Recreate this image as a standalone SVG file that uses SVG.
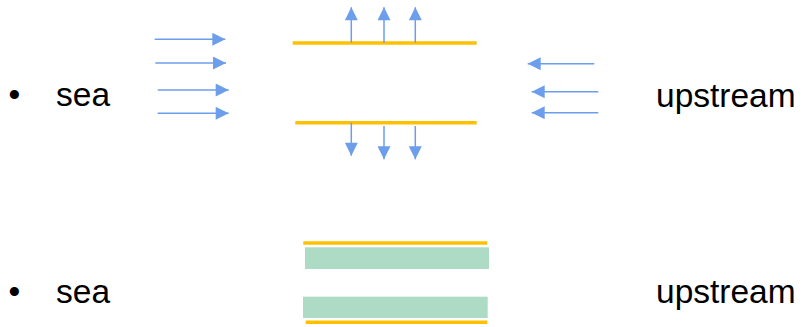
<svg xmlns="http://www.w3.org/2000/svg" width="809" height="327" viewBox="0 0 809 327">
<defs>
<marker id="ah" viewBox="0 0 10 10" refX="10" refY="5" markerWidth="13.5" markerHeight="13" markerUnits="userSpaceOnUse" orient="auto">
<path d="M0,0 L10,5 L0,10 Z" fill="#6D9EEB"/>
</marker>
<style>
.t{font-family:"Liberation Sans",Arial,sans-serif;font-size:33.5px;fill:#000}
.y{stroke:#FFC000;stroke-width:3.4;fill:none}
.g{fill:#ADDBC6;stroke:none}
.a{stroke:#6D9EEB;stroke-width:1.5;fill:none;marker-end:url(#ah)}
</style>
</defs>
<rect width="809" height="327" fill="#fff"/>
<g id="label-sea-1"><text class="t" x="8.5" y="106">•</text><text class="t" x="56" y="106">sea</text></g>
<g id="label-upstream-1"><text class="t" x="656" y="106.5">upstream</text></g>
<g id="label-sea-2"><text class="t" x="8.5" y="303.3">•</text><text class="t" x="56" y="303.3">sea</text></g>
<g id="label-upstream-2"><text class="t" x="656" y="303.3">upstream</text></g>
<g id="top-wall"><line class="y" x1="292.7" y1="43" x2="476.7" y2="43"/></g>
<g id="bottom-wall"><line class="y" x1="295.3" y1="122.7" x2="476.7" y2="122.7"/></g>
<g id="channel-2">
<line class="y" x1="303.3" y1="243" x2="487.3" y2="243"/>
<rect class="g" x="305" y="247.3" width="184" height="21.7"/>
<rect class="g" x="303" y="296.7" width="184.7" height="21.3"/>
<line class="y" x1="305.7" y1="322.3" x2="487.3" y2="322.3"/>
</g>
<g id="connectors">
<line class="a" x1="154.7" y1="39.3" x2="225.3" y2="39.3"/>
<line class="a" x1="155.3" y1="63" x2="226" y2="63"/>
<line class="a" x1="157.7" y1="90" x2="228.7" y2="90"/>
<line class="a" x1="157.7" y1="113.3" x2="228.7" y2="113.3"/>
<line class="a" x1="594.3" y1="63.7" x2="527.7" y2="63.7"/>
<line class="a" x1="598.3" y1="91.7" x2="531.7" y2="91.7"/>
<line class="a" x1="598.3" y1="112.7" x2="531.7" y2="112.7"/>
<line class="a" x1="351.3" y1="42.7" x2="351.3" y2="7.3"/>
<line class="a" x1="384" y1="42.7" x2="384" y2="7.3"/>
<line class="a" x1="415.3" y1="42.7" x2="415.3" y2="7.3"/>
<line class="a" x1="351.3" y1="122.7" x2="351.3" y2="155.7"/>
<line class="a" x1="384" y1="126" x2="384" y2="159.3"/>
<line class="a" x1="415.3" y1="126" x2="415.3" y2="159.3"/>
</g>
</svg>
